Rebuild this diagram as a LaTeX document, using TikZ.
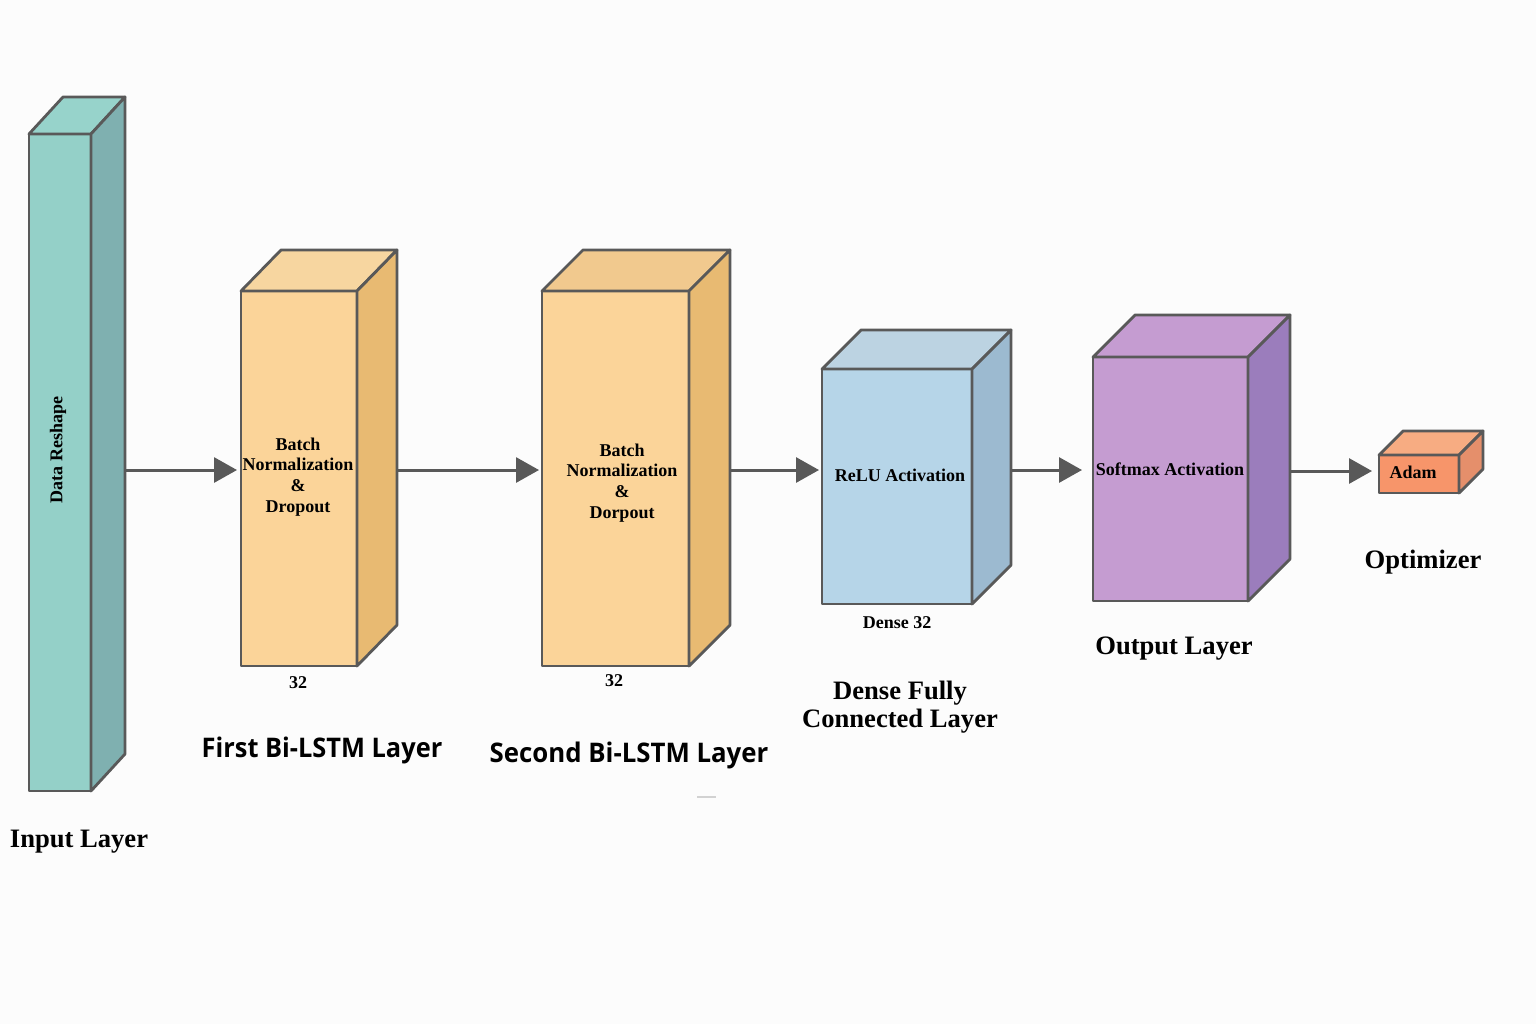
\documentclass[tikz,border=0pt]{standalone}
\usepackage{fontspec}
\setmainfont{Liberation Serif}
\newfontfamily\sansbold{Open Sans}
\usetikzlibrary{arrows.meta,fit}
\definecolor{bgc}{HTML}{FCFCFC}
\definecolor{edgec}{HTML}{595959}
\definecolor{inF}{HTML}{94D0C8}\definecolor{inS}{HTML}{7FB0B0}\definecolor{inT}{HTML}{97D3CB}
\definecolor{b1F}{HTML}{FBD499}\definecolor{b1S}{HTML}{E8BA72}\definecolor{b1T}{HTML}{F7D6A0}
\definecolor{b2F}{HTML}{FBD499}\definecolor{b2S}{HTML}{E8BA72}\definecolor{b2T}{HTML}{F1C98E}
\definecolor{dnF}{HTML}{B6D5E8}\definecolor{dnS}{HTML}{9CBAD0}\definecolor{dnT}{HTML}{BCD3E2}
\definecolor{smF}{HTML}{C59CD1}\definecolor{smS}{HTML}{9B7DBC}\definecolor{smT}{HTML}{C59CD1}
\definecolor{adF}{HTML}{F7956A}\definecolor{adS}{HTML}{E58F6B}\definecolor{adT}{HTML}{F7AC82}
\newcommand{\mycube}[5]{% name, side colour, top colour, dx, dy
  \filldraw[edge, fill=#3] (#1.north west) -- ([shift={(#4,-#5)}]#1.north west)
     -- ([shift={(#4,-#5)}]#1.north east) -- (#1.north east) -- cycle;
  \filldraw[edge, fill=#2] (#1.north east) -- ([shift={(#4,-#5)}]#1.north east)
     -- ([shift={(#4,-#5)}]#1.south east) -- (#1.south east) -- cycle;
}
\begin{document}
\begin{tikzpicture}[x=0.5pt,y=-0.5pt,
  edge/.style={draw=edgec, line width=1.4pt, line join=round},
  face/.style={edge, inner sep=0pt, outer sep=0pt},
  intext/.style={font=\bfseries\fontsize{9}{10.4}\selectfont, align=center, inner sep=0pt},
  caption/.style={font=\bfseries\fontsize{13.3}{14}\selectfont, align=center, inner sep=0pt},
  sanscap/.style={font=\sansbold\bfseries\fontsize{13.5}{15}\selectfont, inner sep=0pt},
  flow/.style={draw=edgec, line width=1.5pt, -{Triangle[length=11.5pt,width=12.5pt]}}]
\fill[bgc] (0,0) rectangle (1536,1024);
\useasboundingbox (0,0) rectangle (1536,1024);

% front faces
\node[face, fill=inF, fit={(29,134)(91,791)}] (inp) {};
\node[face, fill=b1F, fit={(241,291)(357,666)}] (bl1) {};
\node[face, fill=b2F, fit={(542,291)(689,666)}] (bl2) {};
\node[face, fill=dnF, fit={(822,369)(972,604)}] (dns) {};
\node[face, fill=smF, fit={(1093,357)(1248,601)}] (out) {};
\node[face, fill=adF, fit={(1379,455)(1459,493)}] (adm) {};

\mycube{inp}{inS}{inT}{34}{37}
\mycube{bl1}{b1S}{b1T}{40}{41}
\mycube{bl2}{b2S}{b2T}{41}{41}
\mycube{dns}{dnS}{dnT}{39}{39}
\mycube{out}{smS}{smT}{42}{42}
\mycube{adm}{adS}{adT}{24}{24}

% texts inside
\node[intext, rotate=90] (tin) at (58,450) {Data Reshape};
\node[intext] (t1) at (298,477) {Batch\\Normalization\\\&\\Dropout};
\node[intext] (t2) at (622,483) {Batch\\Normalization\\\&\\Dorpout};
\node[intext] (t3) at (900,475) {ReLU Activation};
\node[intext] (t4) at (1170,469) {Softmax Activation};
\node[intext] (t5) at (1413,472) {Adam};

% small labels
\node[intext] (n1) at (298,683) {32};
\node[intext] (n2) at (614,681) {32};
\node[intext] (n3) at (897,623) {Dense 32};

% captions
\node[caption] (c0) at (79,842) {Input Layer};
\node[sanscap] (c1) at (322,750) {\scalebox{0.94}[1]{First Bi-LSTM Layer}};
\node[sanscap] (c2) at (629,755) {\scalebox{0.955}[1]{Second Bi-LSTM Layer}};
\node[caption] (c3) at (900,707) {Dense Fully\\Connected Layer};
\node[caption] (c4) at (1174,649) {Output Layer};
\node[caption] (c5) at (1423,562) {Optimizer};

% arrows
\coordinate (s0) at (125,470);
\coordinate (s1) at (397,470);
\coordinate (s2) at (729,470);
\coordinate (s3) at (1011,470);
\coordinate (s4) at (1290,471);
\draw[flow] (s0) -- ([xshift=-2pt]bl1.west |- s0);
\draw[flow] (s1) -- ([xshift=-1.5pt]bl2.west |- s1);
\draw[flow] (s2) -- ([xshift=-1.5pt]dns.west |- s2);
\draw[flow] (s3) -- ([xshift=-5.5pt]out.west |- s3);
\draw[flow] (s4) -- ([xshift=-3.5pt]adm.west |- s4);

\draw[gray!35, line width=0.6pt] (697,797) -- (716,797);
\end{tikzpicture}
\end{document}
